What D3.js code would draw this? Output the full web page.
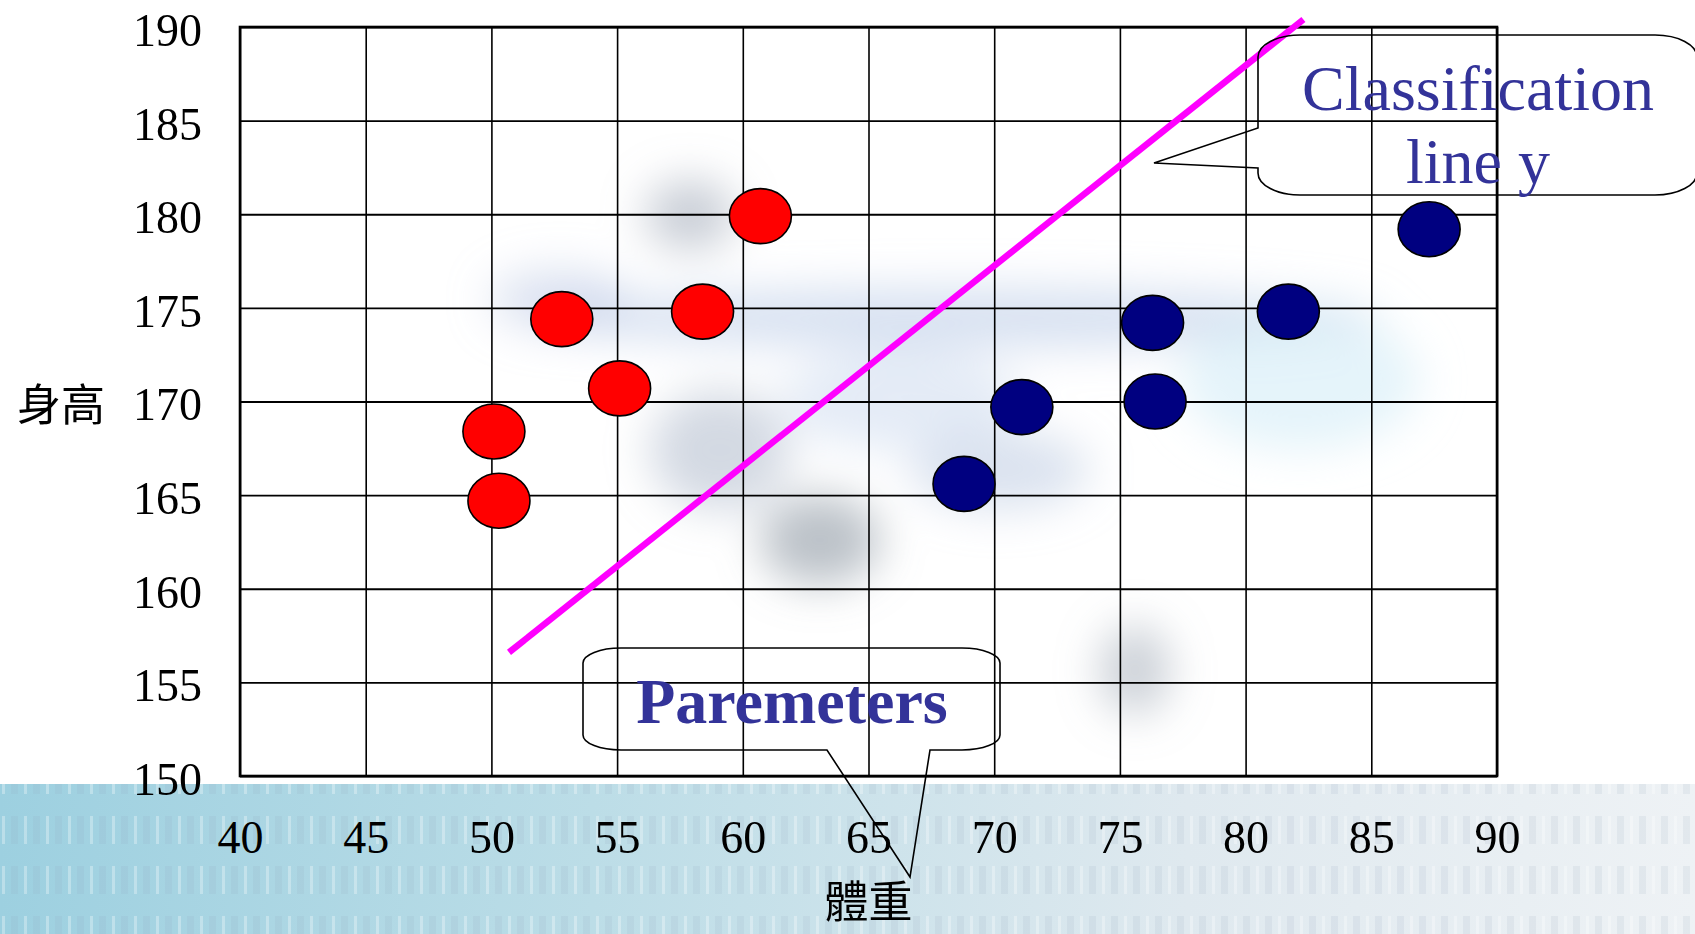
<!DOCTYPE html>
<html>
<head>
<meta charset="utf-8">
<script src="https://cdn.jsdelivr.net/npm/d3@7"></script>
<style>
  html, body { margin: 0; padding: 0; background: #ffffff; }
  svg { display: block; }
</style>
</head>
<body>
<div id="chart"></div>
<script>
// ---- data ----
const xTickValues = [40, 45, 50, 55, 60, 65, 70, 75, 80, 85, 90];
const yTickValues = [150, 155, 160, 165, 170, 175, 180, 185, 190];
const xTickLabels = ["40", "45", "50", "55", "60", "65", "70", "75", "80", "85", "90"];
const yTickLabels = ["150", "155", "160", "165", "170", "175", "180", "185", "190"];

const redWeight  = [60.7, 52.8, 58.4, 55.1, 50.1, 50.3];
const redHeight  = [179.9, 174.4, 174.8, 170.7, 168.4, 164.7];
const blueWeight = [87.3, 81.7, 76.3, 71.1, 76.4, 68.8];
const blueHeight = [179.2, 174.8, 174.2, 169.7, 170.0, 165.6];

const lineWeight = [50.7, 82.3];
const lineHeight = [156.6, 190.4];

const xTitle = "體重";
const yTitle = "身高";
const calloutTop = ["Classification", "line y"];
const calloutBottom = "Paremeters";

// ---- layout ----
const W = 1695, H = 934;
const L = 240, R = 1497, T = 27, B = 776;
const serif = "'Liberation Serif', 'Times New Roman', serif";
const cjk = "'Noto Sans CJK TC', 'Noto Sans CJK SC', sans-serif";

const svg = d3.select("#chart").append("svg").attr("width", W).attr("height", H);
const defs = svg.append("defs");

const blur = defs.append("filter").attr("id", "blur")
  .attr("x", "-50%").attr("y", "-50%").attr("width", "200%").attr("height", "200%");
blur.append("feGaussianBlur").attr("stdDeviation", 22);

const bandGrad = defs.append("linearGradient").attr("id", "band").attr("x1", 0).attr("x2", 1).attr("y1", 0).attr("y2", 0);
bandGrad.append("stop").attr("offset", "0%").attr("stop-color", "#9dd0e0");
bandGrad.append("stop").attr("offset", "35%").attr("stop-color", "#bcdde7");
bandGrad.append("stop").attr("offset", "70%").attr("stop-color", "#dfe9ef");
bandGrad.append("stop").attr("offset", "100%").attr("stop-color", "#eef2f5");

const stripes = defs.append("pattern").attr("id", "stripes").attr("patternUnits", "userSpaceOnUse")
  .attr("width", 22).attr("height", 50);
stripes.append("rect").attr("x", 2).attr("y", 16).attr("width", 3).attr("height", 28).attr("fill", "#ffffff").attr("opacity", 0.3);
stripes.append("rect").attr("x", 11).attr("y", 16).attr("width", 7).attr("height", 28).attr("fill", "#8aa0b8").attr("opacity", 0.12);

svg.append("rect").attr("width", W).attr("height", H).attr("fill", "#ffffff");

// bottom decorative band
svg.append("rect").attr("x", 0).attr("y", 784).attr("width", W).attr("height", H - 784).attr("fill", "url(#band)");
svg.append("rect").attr("x", 0).attr("y", 784).attr("width", W).attr("height", H - 784).attr("fill", "url(#stripes)");

// soft background blobs
const blobs = svg.append("g").attr("filter", "url(#blur)");
const blobData = [
  [960, 318, 420, 30, "#b6c8e6", 0.55],
  [690, 215, 45, 35, "#9aa4b4", 0.55],
  [720, 450, 70, 60, "#a8b4c8", 0.5],
  [820, 540, 60, 45, "#8e98a4", 0.6],
  [1000, 470, 90, 40, "#b8c8e0", 0.5],
  [1135, 670, 35, 45, "#98a2b0", 0.5],
  [1300, 380, 120, 70, "#d4ecf6", 0.6],
  [560, 300, 70, 30, "#b9c6e4", 0.5],
  [900, 400, 120, 50, "#c4d2ea", 0.45]
];
blobs.selectAll("ellipse").data(blobData).join("ellipse")
  .attr("cx", d => d[0]).attr("cy", d => d[1]).attr("rx", d => d[2]).attr("ry", d => d[3])
  .attr("fill", d => d[4]).attr("opacity", d => d[5]);

// ---- scales ----
const x = d3.scaleLinear().domain([40, 90]).range([L, R]);
const y = d3.scaleLinear().domain([150, 190]).range([B, T]);

// grid + labels through axes
const xAxis = d3.axisBottom(x).tickValues(xTickValues)
  .tickFormat((d, i) => xTickLabels[i]).tickSizeInner(-(B - T)).tickSizeOuter(0).tickPadding(44);
const gx = svg.append("g").attr("transform", `translate(0,${B})`).call(xAxis);
gx.select(".domain").remove();
gx.selectAll("line").attr("stroke", "#000").attr("stroke-width", 1.6);
gx.selectAll("text").attr("font-family", serif).attr("font-size", 46).attr("fill", "#000");

const yAxis = d3.axisLeft(y).tickValues(yTickValues)
  .tickFormat((d, i) => yTickLabels[i]).tickSizeInner(-(R - L)).tickSizeOuter(0).tickPadding(38);
const gy = svg.append("g").attr("transform", `translate(${L},0)`).call(yAxis);
gy.select(".domain").remove();
gy.selectAll("line").attr("stroke", "#000").attr("stroke-width", 1.8);
gy.selectAll("text").attr("font-family", serif).attr("font-size", 46).attr("fill", "#000").attr("dy", "0.4em");

svg.append("rect").attr("x", L).attr("y", T).attr("width", R - L).attr("height", B - T)
  .attr("fill", "none").attr("stroke", "#000").attr("stroke-width", 2.6);

// ---- points ----
const redPts = redWeight.map((w, i) => ({ w, h: redHeight[i] }));
const bluePts = blueWeight.map((w, i) => ({ w, h: blueHeight[i] }));

svg.append("g").selectAll("ellipse").data(redPts).join("ellipse")
  .attr("cx", d => x(d.w)).attr("cy", d => y(d.h)).attr("rx", 31).attr("ry", 27.5)
  .attr("fill", "#ff0000").attr("stroke", "#000").attr("stroke-width", 1.6);

svg.append("g").selectAll("ellipse").data(bluePts).join("ellipse")
  .attr("cx", d => x(d.w)).attr("cy", d => y(d.h)).attr("rx", 31).attr("ry", 27.5)
  .attr("fill", "#000080").attr("stroke", "#000").attr("stroke-width", 1.6);

// ---- classification line ----
const linePts = lineWeight.map((w, i) => [w, lineHeight[i]]);
svg.append("path").datum(linePts)
  .attr("d", d3.line().x(d => x(d[0])).y(d => y(d[1])))
  .attr("stroke", "#ff00ff").attr("stroke-width", 6.5).attr("fill", "none");

// ---- callouts ----
function roundedCallout(x0, y0, x1, y1, rx, ry, pointer) {
  const p = [];
  p.push(`M${x0 + rx},${y0}`);
  p.push(`L${x1 - rx},${y0}`);
  p.push(`A${rx},${ry} 0 0 1 ${x1},${y0 + ry}`);
  p.push(`L${x1},${y1 - ry}`);
  p.push(`A${rx},${ry} 0 0 1 ${x1 - rx},${y1}`);
  if (pointer && pointer.side === "bottom") {
    p.push(`L${pointer.a},${y1}`);
    p.push(`L${pointer.tx},${pointer.ty}`);
    p.push(`L${pointer.b},${y1}`);
  }
  p.push(`L${x0 + rx},${y1}`);
  p.push(`A${rx},${ry} 0 0 1 ${x0},${y1 - ry}`);
  if (pointer && pointer.side === "left") {
    p.push(`L${x0},${pointer.b}`);
    p.push(`L${pointer.tx},${pointer.ty}`);
    p.push(`L${x0},${pointer.a}`);
  }
  p.push(`L${x0},${y0 + ry}`);
  p.push(`A${rx},${ry} 0 0 1 ${x0 + rx},${y0}`);
  p.push("Z");
  return p.join(" ");
}

svg.append("path")
  .attr("d", roundedCallout(1258, 35, 1697, 195, 42, 22, { side: "left", a: 128, b: 168, tx: 1154, ty: 163 }))
  .attr("fill", "none").attr("stroke", "#000").attr("stroke-width", 1.6);

svg.append("path")
  .attr("d", roundedCallout(583, 648, 1000, 750, 38, 15, { side: "bottom", a: 930, b: 827, tx: 910, ty: 877 }))
  .attr("fill", "none").attr("stroke", "#000").attr("stroke-width", 1.6);

svg.append("text").attr("x", 1478).attr("y", 110).attr("text-anchor", "middle")
  .attr("font-family", serif).attr("font-size", 64).attr("fill", "#333399").text(calloutTop[0]);
svg.append("text").attr("x", 1478).attr("y", 183).attr("text-anchor", "middle")
  .attr("font-family", serif).attr("font-size", 64).attr("fill", "#333399").text(calloutTop[1]);

svg.append("text").attr("x", 792).attr("y", 723).attr("text-anchor", "middle")
  .attr("font-family", serif).attr("font-weight", "bold").attr("font-size", 64).attr("fill", "#333399").text(calloutBottom);

// ---- axis titles ----
svg.append("text").attr("x", 17).attr("y", 421)
  .attr("font-family", cjk).attr("font-size", 44).attr("fill", "#000").text(yTitle);
svg.append("text").attr("x", (L + R) / 2).attr("y", 918).attr("text-anchor", "middle")
  .attr("font-family", cjk).attr("font-size", 44).attr("fill", "#000").text(xTitle);
</script>
</body>
</html>
